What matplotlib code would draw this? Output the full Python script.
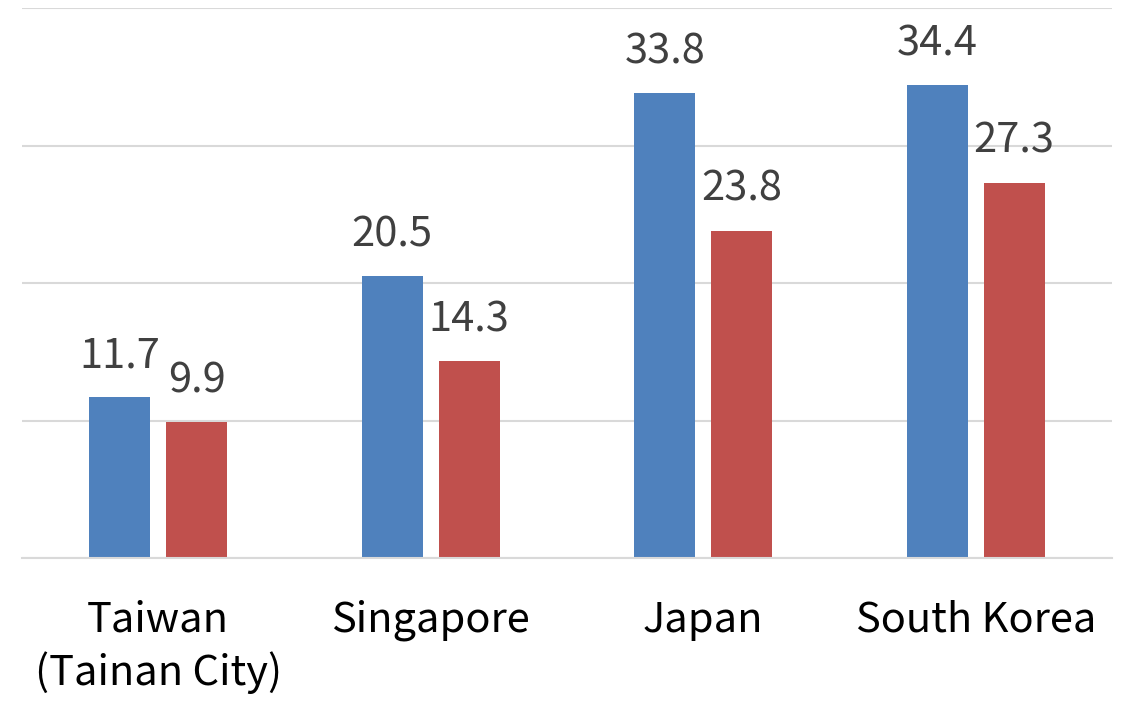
import numpy as np
import matplotlib.pyplot as plt

plt.rcParams['font.family'] = ['Noto Sans CJK KR', 'DejaVu Sans']

categories = ['Taiwan\n(Tainan City)', 'Singapore', 'Japan', 'South Korea']
series_a = [11.7, 20.5, 33.8, 34.4]
series_b = [9.9, 14.3, 23.8, 27.3]

blue = '#4F81BD'
red = '#C0504D'


def main():
    fig = plt.figure(figsize=(11.22, 7.04), dpi=100)
    ax = fig.add_axes([22 / 1122, (704 - 558) / 704, 1090 / 1122, 550 / 704])

    x = np.arange(len(categories))
    w = 0.224
    off = 0.141
    bars_a = ax.bar(x - off, series_a, w, color=blue, zorder=2)
    bars_b = ax.bar(x + off, series_b, w, color=red, zorder=2)

    for bars in (bars_a, bars_b):
        ax.bar_label(bars, fmt='%.1f', padding=15, fontsize=30, color='#404040')

    ax.set_xlim(-0.5, len(categories) - 0.5)
    ax.set_ylim(0, 40)
    ax.set_yticks([0, 10, 20, 30, 40])
    ax.yaxis.grid(True, color='#D9D9D9', linewidth=1.5, zorder=0)
    ax.set_axisbelow(True)
    ax.tick_params(axis='y', length=0, labelleft=False)

    ax.set_xticks(x)
    ax.set_xticklabels(categories, fontsize=30, color='black', linespacing=1.3)
    ax.tick_params(axis='x', length=0, pad=30)

    for s in ['top', 'right', 'left']:
        ax.spines[s].set_visible(False)
    ax.spines['bottom'].set_color('#D9D9D9')
    ax.spines['bottom'].set_linewidth(1.5)

    fig.savefig('out.png', dpi=100)


if __name__ == "__main__":
    main()
